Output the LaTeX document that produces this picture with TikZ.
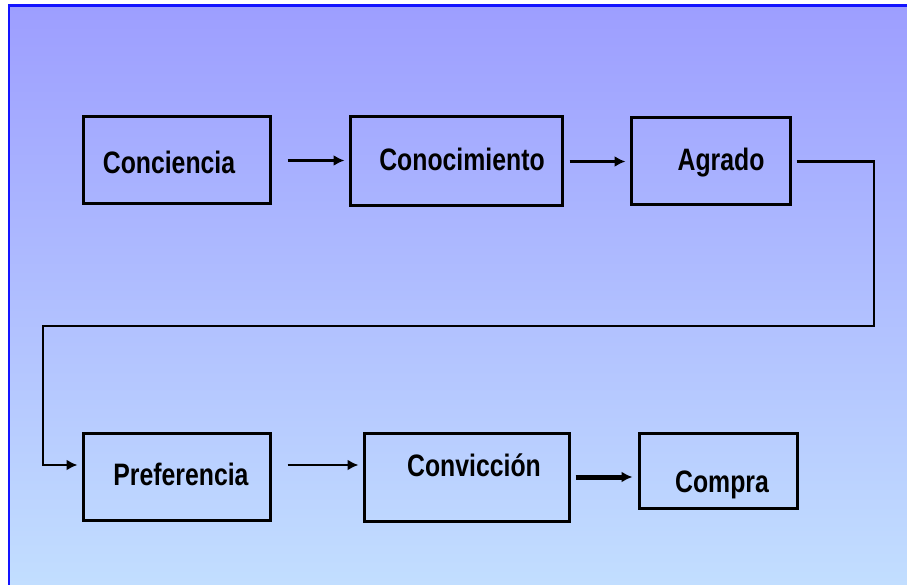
\documentclass[tikz,border=0pt]{standalone}
\usepackage{fontspec}
\usepackage{tikz}
\usetikzlibrary{arrows.meta,positioning}
\newfontfamily\flowfont[FakeStretch=0.8]{Liberation Sans}
\definecolor{bgtop}{RGB}{157,158,255}
\definecolor{bgbottom}{RGB}{194,222,255}
\definecolor{frameblue}{RGB}{20,20,255}

\begin{document}
\begin{tikzpicture}[x=1pt,y=-1pt,>={Latex[length=11pt,width=11pt]},
  box/.style={draw,line width=3pt,inner sep=0pt},
  lbl/.style={font=\flowfont\bfseries\fontsize{31}{31}\selectfont,anchor=base,inner sep=0pt},
  flow/.style={->,line width=2.6pt,shorten >=4pt}]
\useasboundingbox (0,0) rectangle (907,585);
\shade[top color=bgtop,bottom color=bgbottom] (9,5.5) rectangle (907,585);
\draw[frameblue,line width=2.5pt] (9,585) -- (9,5.5) -- (907,5.5);
% first row
\node[box,minimum width=187pt,minimum height=87pt] (concie) at (176.5,160.5) {};
\node[box,minimum width=212pt,minimum height=89pt] (conoc) at (456,161.5) {};
\node[box,minimum width=159pt,minimum height=87pt] (agrado) at (710.5,161.5) {};
\node[lbl] (concietxt) at (169,174) {Conciencia};
\node[lbl] (conoctxt) at (462,171) {Conocimiento};
\node[lbl] (agradotxt) at (721,171) {Agrado};
% second row
\node[box,minimum width=187pt,minimum height=87pt] (pref) at (176.5,476.5) {};
\node[box,minimum width=205pt,minimum height=88pt] (conv) at (466.5,477) {};
\node[box,minimum width=158pt,minimum height=75pt] (compra) at (718,470.5) {};
\node[lbl] (preftxt) at (181,485) {Preferencia};
\node[lbl] (convtxt) at (474,476) {Convicción};
\node[lbl] (compratxt) at (722,492) {Compra};
% turning points of the long connector
\coordinate (rightturn) at (874,326);
\coordinate (leftturn) at (43,465);
\draw[flow,shorten <=16pt] (concie.east) -- (concie.east -| conoc.west);
\draw[flow,shorten <=6pt] (conoc.east) -- (conoc.east -| agrado.west);
\draw[flow,shorten <=5pt] (agrado.east) -| (rightturn) -| (leftturn) -- (pref.west |- leftturn);
\draw[flow,shorten <=16pt] (pref.east |- leftturn) -- (conv.west |- leftturn);
\draw[flow,line width=5pt,shorten <=5pt,shorten >=5pt] (conv.east) -- (conv.east -| compra.west);
\end{tikzpicture}
\end{document}
